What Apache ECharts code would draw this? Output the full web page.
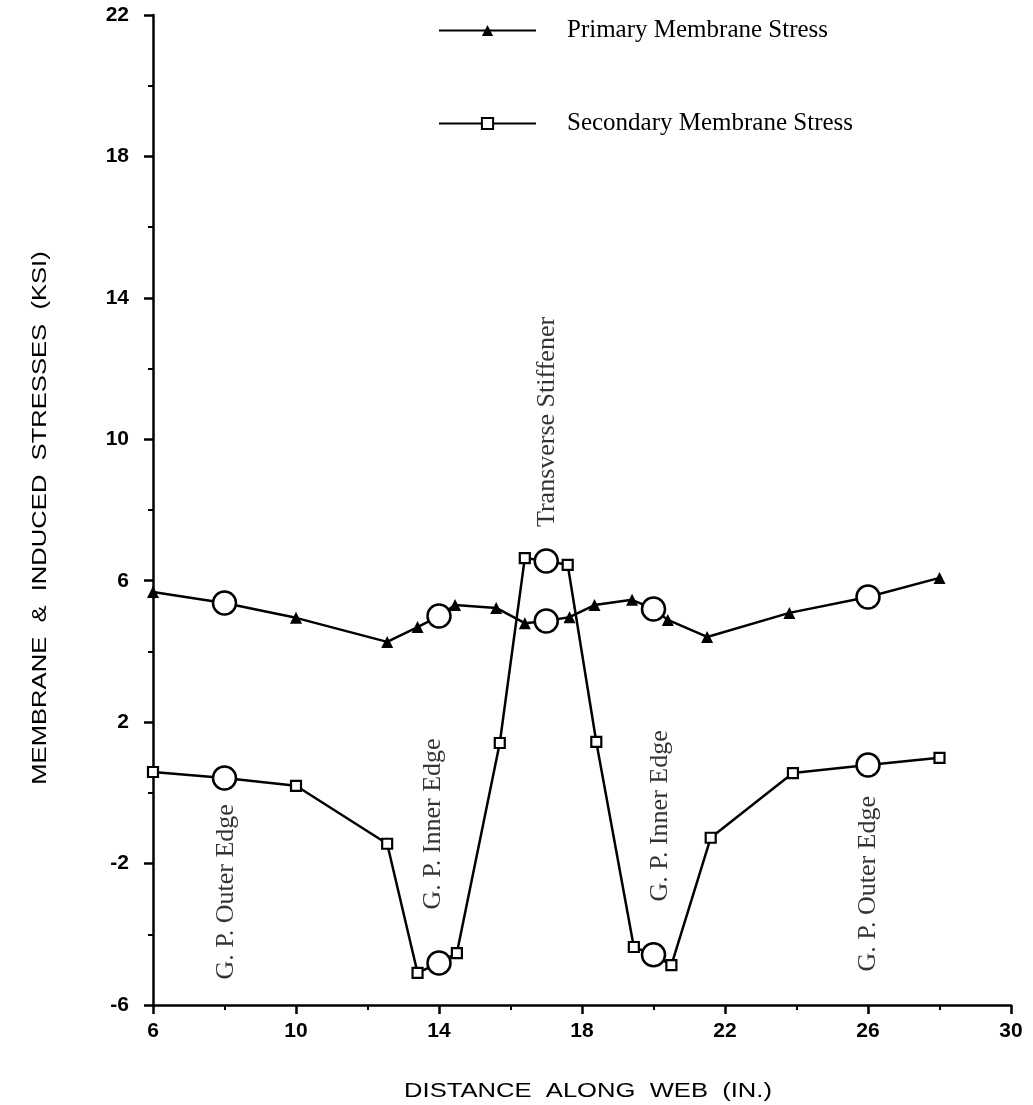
<!DOCTYPE html>
<html>
<head>
<meta charset="utf-8">
<script src="https://cdn.jsdelivr.net/npm/echarts@6/dist/echarts.min.js"></script>
<style>
  html, body { margin: 0; padding: 0; background: #fff; }
  #chart { width: 1033px; height: 1105px; }
</style>
</head>
<body>
<div id="chart"></div>
<script>
  // axis ticks
  const xTicks = [6, 10, 14, 18, 22, 26, 30]
  const xMinor = [8, 12, 16, 20, 24, 28]
  const yTicks = [-6, -2, 2, 6, 10, 14, 18, 22]
  const yMinor = [-4, 0, 4, 8, 12, 16, 20]

  // gauge point locations (drawn as open circles)
  const gaugeX = [8, 14, 17, 20, 26]

  // primary membrane stress
  const primaryX = [6, 8, 10, 12.55, 13.4, 14, 14.45, 15.6, 16.4, 17, 17.65, 18.35, 19.4, 20, 20.4, 21.5, 23.8, 26, 28]
  const primaryY = [5.68, 5.37, 4.95, 4.27, 4.69, 5.0, 5.31, 5.23, 4.8, 4.86, 4.97, 5.31, 5.46, 5.2, 4.89, 4.41, 5.09, 5.54, 6.08]

  // secondary membrane stress
  const secondaryX = [6, 8, 10, 12.55, 13.4, 14, 14.5, 15.7, 16.4, 17, 17.6, 18.4, 19.45, 20, 20.5, 21.6, 23.9, 26, 28]
  const secondaryY = [0.59, 0.42, 0.2, -1.44, -5.09, -4.81, -4.53, 1.41, 6.64, 6.56, 6.45, 1.44, -4.36, -4.58, -4.87, -1.27, 0.56, 0.79, 0.99]

  // vertical notes
  const noteText = ['G. P. Outer Edge', 'G. P. Inner Edge', 'Transverse Stiffener', 'G. P. Inner Edge', 'G. P. Outer Edge']
  const noteX = [8.05, 13.83, 17.02, 20.18, 26.0]
  const noteY = [-2.8, -0.88, 10.49, -0.65, -2.57]

  const circleStyle = { color: '#fff', borderColor: '#000', borderWidth: 2.5 }

  function toPoints(xs, ys) {
    return xs.map(function (x, i) {
      if (gaugeX.indexOf(x) >= 0) {
        return { value: [x, ys[i]], symbol: 'circle', symbolSize: 23, itemStyle: circleStyle }
      }
      return { value: [x, ys[i]] }
    })
  }

  const tickFont = { color: '#000', fontFamily: 'Liberation Sans', fontWeight: 'bold', fontSize: 21 }

  // axis titles are wide-set in the original, so stretch them a bit
  function titleText(text, x, y, rot) {
    return {
      type: 'text',
      x: x,
      y: y,
      rotation: rot,
      scaleX: 1.28,
      silent: true,
      style: {
        text: text,
        fill: '#000',
        fontFamily: 'Liberation Sans',
        fontSize: 20,
        align: 'center',
        verticalAlign: 'middle',
        textAlign: 'center',
        textVerticalAlign: 'middle'
      }
    }
  }

  const chart = echarts.init(document.getElementById('chart'))
  chart.setOption({
    animation: false,
    backgroundColor: '#fff',
    grid: { left: 153, right: 22, top: 15, bottom: 100 },
    legend: {
      orient: 'vertical',
      left: 438,
      top: 18,
      padding: 0,
      itemWidth: 97,
      itemHeight: 14,
      itemGap: 68,
      data: ['Primary Membrane Stress', 'Secondary Membrane Stress'],
      textStyle: { color: '#000', fontFamily: 'Liberation Serif', fontSize: 25, padding: [0, 0, 0, 26] }
    },
    graphic: [
      titleText('DISTANCE  ALONG  WEB  (IN.)', 588, 1091, 0),
      titleText('MEMBRANE  &  INDUCED  STRESSES  (KSI)', 40, 518, Math.PI / 2)
    ],
    xAxis: [
      {
        type: 'value',
        min: 6,
        max: 30,
        position: 'bottom',
        splitLine: { show: false },
        axisLine: { onZero: false, lineStyle: { color: '#000', width: 2.5 } },
        axisTick: { customValues: xTicks, length: 9, lineStyle: { color: '#000', width: 2.5 } },
        axisLabel: Object.assign({ customValues: xTicks, margin: 16 }, tickFont)
      },
      {
        type: 'value',
        min: 6,
        max: 30,
        position: 'bottom',
        splitLine: { show: false },
        axisLine: { show: false, onZero: false },
        axisTick: { customValues: xMinor, length: 5, lineStyle: { color: '#000', width: 2 } },
        axisLabel: { show: false }
      }
    ],
    yAxis: [
      {
        type: 'value',
        min: -6,
        max: 22,
        position: 'left',
        splitLine: { show: false },
        axisLine: { onZero: false, lineStyle: { color: '#000', width: 2.5 } },
        axisTick: { customValues: yTicks, length: 9, lineStyle: { color: '#000', width: 2.5 } },
        axisLabel: Object.assign({ customValues: yTicks, margin: 24 }, tickFont)
      },
      {
        type: 'value',
        min: -6,
        max: 22,
        position: 'left',
        splitLine: { show: false },
        axisLine: { show: false, onZero: false },
        axisTick: { customValues: yMinor, length: 5, lineStyle: { color: '#000', width: 2 } },
        axisLabel: { show: false }
      }
    ],
    series: [
      {
        name: 'Primary Membrane Stress',
        type: 'line',
        symbol: 'triangle',
        symbolSize: 12,
        itemStyle: { color: '#000' },
        lineStyle: { color: '#000', width: 2.5 },
        data: toPoints(primaryX, primaryY)
      },
      {
        name: 'Secondary Membrane Stress',
        type: 'line',
        symbol: 'rect',
        symbolSize: 10,
        itemStyle: { color: '#fff', borderColor: '#000', borderWidth: 2.2 },
        lineStyle: { color: '#000', width: 2.5 },
        data: toPoints(secondaryX, secondaryY)
      },
      {
        name: 'notes',
        type: 'scatter',
        symbolSize: 0,
        silent: true,
        label: {
          show: true,
          position: 'inside',
          rotate: 90,
          formatter: function (p) { return p.name },
          color: '#000',
          fontFamily: 'Liberation Serif',
          fontSize: 26
        },
        data: noteText.map(function (t, i) { return { name: t, value: [noteX[i], noteY[i]] } })
      }
    ]
  })
</script>
</body>
</html>
